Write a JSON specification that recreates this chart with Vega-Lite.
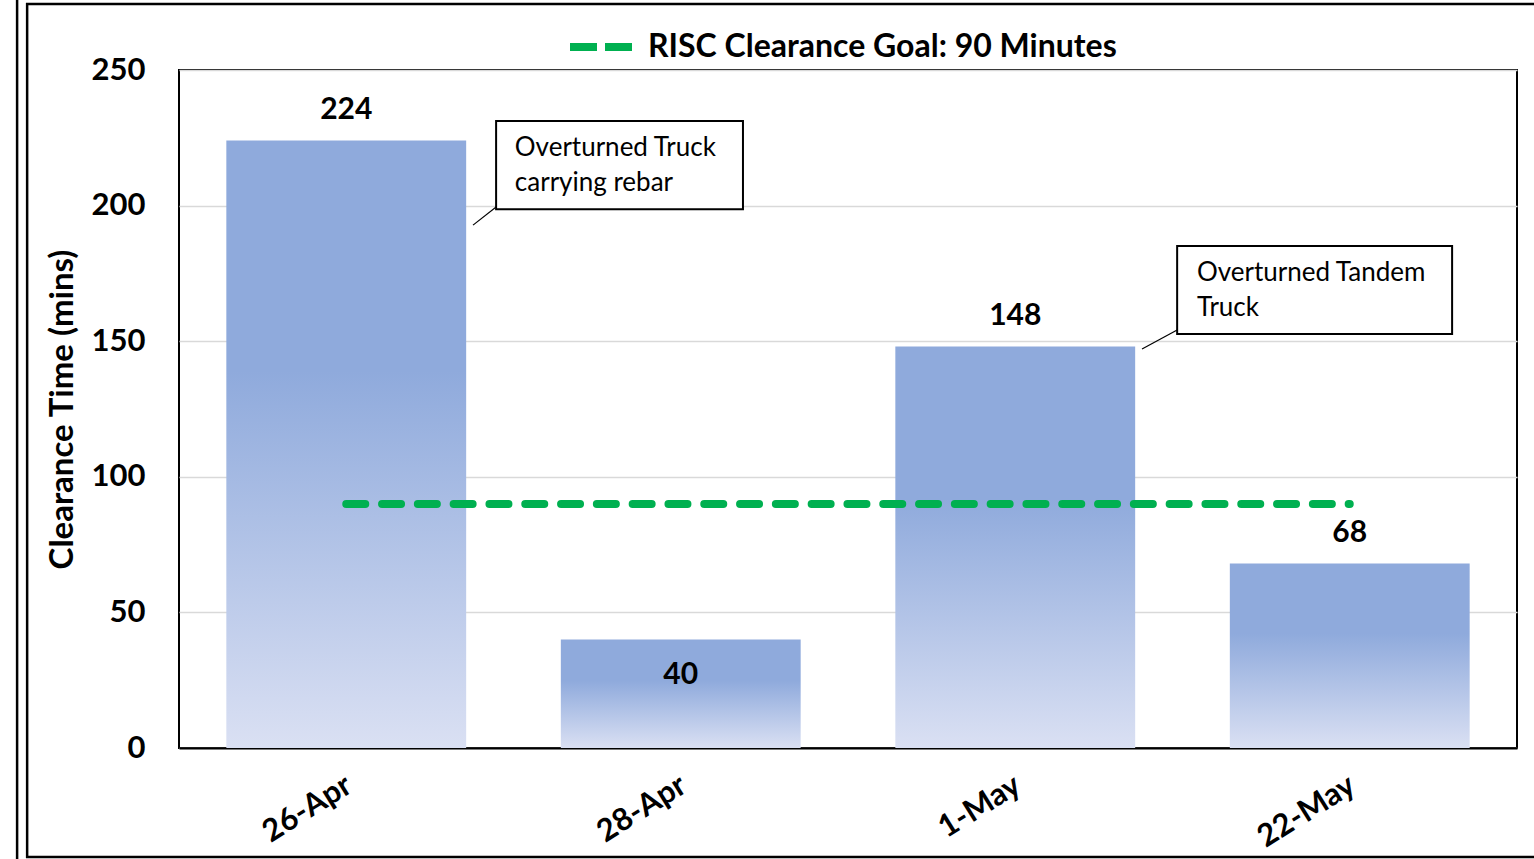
{
  "$schema": "https://vega.github.io/schema/vega-lite/v6.json",
  "width": 1338,
  "height": 678,
  "autosize": {"type": "none"},
  "padding": {"left": 179, "top": 70, "right": 17, "bottom": 111},
  "background": "white",
  "config": {
    "font": "Lato",
    "view": {"stroke": "black", "strokeWidth": 2},
    "axis": {"labelColor": "black", "titleColor": "black", "labelFont": "Lato", "titleFont": "Lato"}
  },
  "datasets": {
    "bars": [
      {"date": "26-Apr", "minutes": 224},
      {"date": "28-Apr", "minutes": 40},
      {"date": "1-May", "minutes": 148},
      {"date": "22-May", "minutes": 68}
    ],
    "notes": [
      {"x1": 0.948, "x2": 1.686, "y1": 231.2, "y2": 198.7, "tx": 1.004, "ty": 221.2, "label": "Overturned Truck\ncarrying rebar"},
      {"x1": 2.984, "x2": 3.806, "y1": 185.1, "y2": 152.7, "tx": 3.043, "ty": 175.1, "label": "Overturned Tandem\nTruck"}
    ],
    "leaders": [
      {"x": 0.879, "y": 192.8, "x2": 0.948, "y2": 199.5},
      {"x": 2.879, "y": 147.1, "x2": 2.984, "y2": 154.1}
    ],
    "frame": [
      {"x1": -0.454, "x2": 4.3, "y1": 274.3, "y2": -40.2}
    ],
    "edge": [
      {"x": -0.484, "y1": 278, "y2": -42}
    ]
  },
  "layer": [
    {
      "data": {"name": "bars"},
      "encoding": {
        "x": {
          "field": "date",
          "type": "nominal",
          "sort": null,
          "scale": {"paddingInner": 0.283, "paddingOuter": 0.1415},
          "axis": {
            "title": null,
            "labelAngle": -32,
            "labelFontSize": 31,
            "labelFontWeight": "bold",
            "labelPadding": 22,
            "labelOffset": -5,
            "ticks": false,
            "domainColor": "black",
            "domainWidth": 2
          }
        }
      },
      "layer": [
        {
          "mark": {
            "type": "bar",
            "color": {
              "gradient": "linear",
              "x1": 0, "y1": 0, "x2": 0, "y2": 1,
              "stops": [
                {"offset": 0, "color": "#8FAADC"},
                {"offset": 0.38, "color": "#8FAADC"},
                {"offset": 1, "color": "#DAE0F3"}
              ]
            }
          },
          "encoding": {
            "y": {
              "field": "minutes",
              "type": "quantitative",
              "scale": {"domain": [0, 250], "nice": false},
              "axis": {
                "values": [0, 50, 100, 150, 200, 250],
                "title": "Clearance  Time (mins)",
                "titleFontSize": 33,
                "titleFontWeight": "bold",
                "titlePadding": 12,
                "labelFontSize": 31,
                "labelFontWeight": "bold",
                "labelPadding": 34,
                "ticks": false,
                "domain": false,
                "grid": true,
                "gridColor": "#D9D9D9",
                "gridWidth": 1.5
              }
            }
          }
        },
        {
          "transform": [{"filter": "datum.minutes >= 50"}],
          "mark": {"type": "text", "baseline": "bottom", "dy": -16, "fontSize": 30, "fontWeight": "bold", "color": "black"},
          "encoding": {
            "y": {"field": "minutes", "type": "quantitative"},
            "text": {"field": "minutes", "type": "quantitative"}
          }
        },
        {
          "transform": [{"filter": "datum.minutes < 50"}],
          "mark": {"type": "text", "baseline": "middle", "dy": 35, "fontSize": 30, "fontWeight": "bold", "color": "black"},
          "encoding": {
            "y": {"field": "minutes", "type": "quantitative"},
            "text": {"field": "minutes", "type": "quantitative"}
          }
        },
        {
          "mark": {"type": "line", "strokeWidth": 8, "strokeCap": "round", "strokeDash": [19, 16.8]},
          "encoding": {
            "y": {"datum": 90, "type": "quantitative"},
            "color": {
              "datum": "RISC Clearance Goal: 90 Minutes",
              "type": "nominal",
              "scale": {"range": ["#00B050"]},
              "legend": {
                "title": null,
                "orient": "none",
                "legendX": 387,
                "legendY": -58,
                "padding": 0,
                "symbolType": "stroke",
                "symbolSize": 3844,
                "symbolStrokeWidth": 8,
                "symbolDash": [27, 8],
                "labelFontSize": 32,
                "labelFontWeight": "bold",
                "labelColor": "black",
                "labelFont": "Lato",
                "labelOffset": 12,
                "labelLimit": 800
              }
            }
          }
        }
      ]
    },
    {
      "layer": [
        {
          "data": {"name": "notes"},
          "mark": {"type": "rect", "fill": "white", "stroke": "black", "strokeWidth": 2},
          "encoding": {
            "x": {"field": "x1", "type": "quantitative", "scale": {"domain": [0, 4], "nice": false, "zero": false}, "axis": null},
            "x2": {"field": "x2"},
            "y": {"field": "y1", "type": "quantitative"},
            "y2": {"field": "y2"}
          }
        },
        {
          "data": {"name": "notes"},
          "mark": {"type": "text", "align": "left", "baseline": "middle", "lineBreak": "\n", "lineHeight": 35, "fontSize": 26, "color": "black", "font": "Lato"},
          "encoding": {
            "x": {"field": "tx", "type": "quantitative"},
            "y": {"field": "ty", "type": "quantitative"},
            "text": {"field": "label"}
          }
        },
        {
          "data": {"name": "leaders"},
          "mark": {"type": "rule", "stroke": "black", "strokeWidth": 1.2},
          "encoding": {
            "x": {"field": "x", "type": "quantitative"},
            "x2": {"field": "x2"},
            "y": {"field": "y", "type": "quantitative"},
            "y2": {"field": "y2"}
          }
        },
        {
          "data": {"name": "frame"},
          "mark": {"type": "rect", "fill": null, "fillOpacity": 0, "stroke": "black", "strokeWidth": 2.5},
          "encoding": {
            "x": {"field": "x1", "type": "quantitative"},
            "x2": {"field": "x2"},
            "y": {"field": "y1", "type": "quantitative"},
            "y2": {"field": "y2"}
          }
        },
        {
          "data": {"name": "edge"},
          "mark": {"type": "rule", "stroke": "black", "strokeWidth": 2.5},
          "encoding": {
            "x": {"field": "x", "type": "quantitative"},
            "y": {"field": "y1", "type": "quantitative"},
            "y2": {"field": "y2"}
          }
        }
      ]
    }
  ],
  "resolve": {"scale": {"x": "independent"}}
}
